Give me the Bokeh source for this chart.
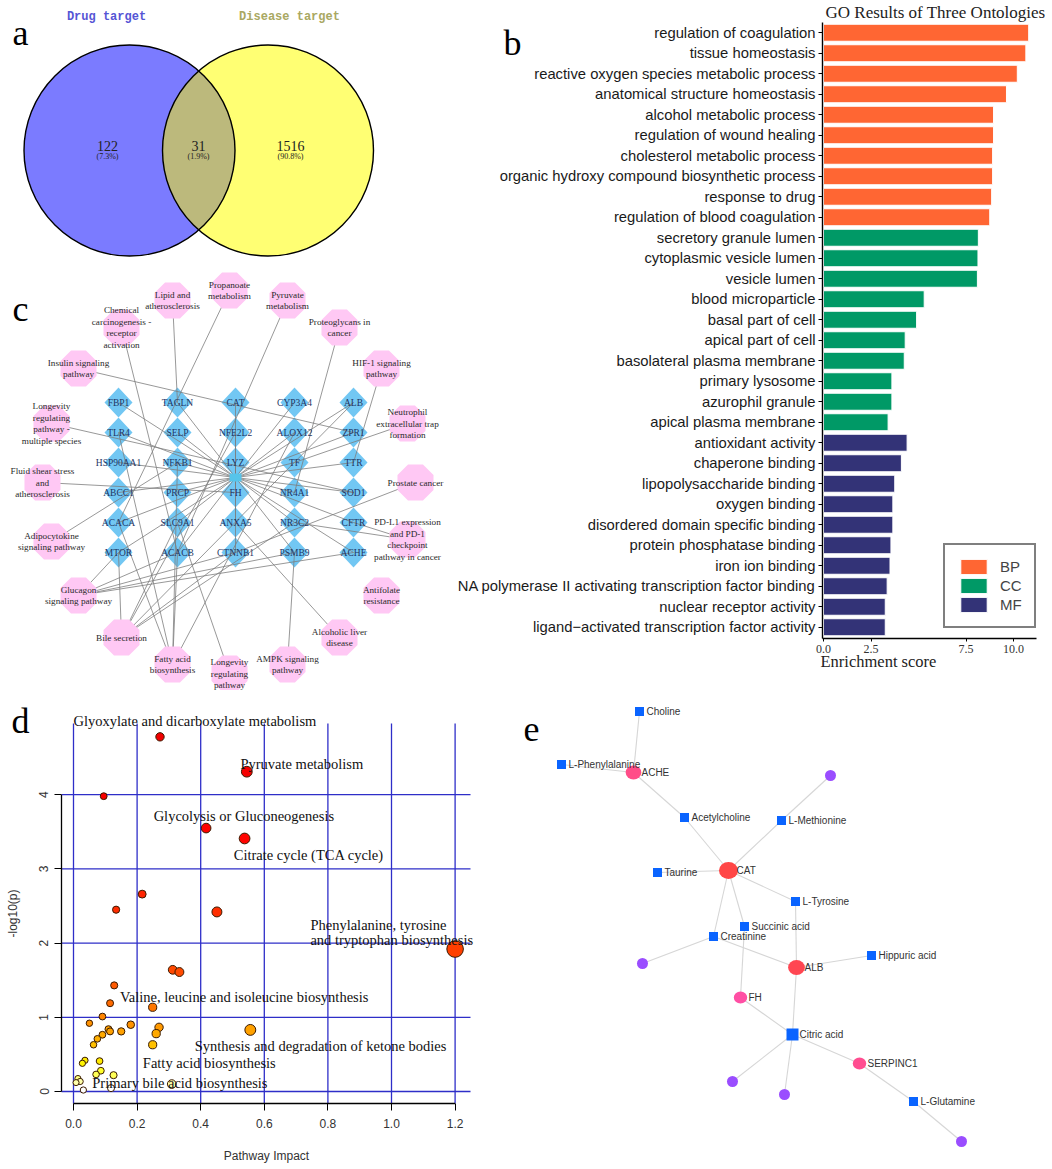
import numpy as np
from bokeh.plotting import figure
from bokeh.layouts import column, row
from bokeh.models import (Range1d, FixedTicker, NumeralTickFormatter,
                          LinearColorMapper, ColumnDataSource, Legend, LegendItem)
from bokeh.core.properties import value
from bokeh.transform import transform
from bokeh.embed import file_html
from bokeh.resources import INLINE

SERIF = "Liberation Serif"
SANS = "Liberation Sans"
MONO = "Liberation Mono"

# ============================ DATA ============================
# (a) Venn
venn_names = ["Drug target", "Disease target"]
venn_counts = [122, 31, 1516]
venn_pcts = ["(7.3%)", "(1.9%)", "(90.8%)"]

# (b) GO enrichment
go_terms = [
    "regulation of coagulation", "tissue homeostasis",
    "reactive oxygen species metabolic process", "anatomical structure homeostasis",
    "alcohol metabolic process", "regulation of wound healing",
    "cholesterol metabolic process", "organic hydroxy compound biosynthetic process",
    "response to drug", "regulation of blood coagulation",
    "secretory granule lumen", "cytoplasmic vesicle lumen", "vesicle lumen",
    "blood microparticle", "basal part of cell", "apical part of cell",
    "basolateral plasma membrane", "primary lysosome", "azurophil granule",
    "apical plasma membrane",
    "antioxidant activity", "chaperone binding", "lipopolysaccharide binding",
    "oxygen binding", "disordered domain specific binding", "protein phosphatase binding",
    "iron ion binding", "NA polymerase II activating transcription factor binding",
    "nuclear receptor activity", "ligand\u2212activated transcription factor activity",
]
go_scores = [10.8, 10.65, 10.2, 9.63, 8.95, 8.95, 8.9, 8.9, 8.85, 8.75,
             8.15, 8.13, 8.1, 5.3, 4.9, 4.3, 4.25, 3.6, 3.6, 3.4,
             4.4, 4.1, 3.75, 3.65, 3.65, 3.55, 3.5, 3.35, 3.25, 3.25]
go_class = ["BP", "BP", "BP", "BP", "BP", "BP", "BP", "BP", "BP", "BP",
            "CC", "CC", "CC", "CC", "CC", "CC", "CC", "CC", "CC", "CC",
            "MF", "MF", "MF", "MF", "MF", "MF", "MF", "MF", "MF", "MF"]
go_ticks = [0, 2.5, 7.5, 10]
go_title = "GO Results of Three Ontologies"
go_xlabel = "Enrichment score"

# (c) drug-target-pathway network
target_names = ["FBP1", "TAGLN", "CAT", "CYP3A4", "ALB",
                "TLR4", "SELP", "NFE2L2", "ALOX12", "ZPR1",
                "HSP90AA1", "NFKB1", "LYZ", "TF", "TTR",
                "ABCC1", "PRCP", "FH", "NR4A1", "SOD1",
                "ACACA", "SLC9A1", "ANXA5", "NR3C2", "CFTR",
                "MTOR", "ACACB", "CTNNB1", "PSMB9", "ACHE"]
pathway_names = [
    "Propanoate\nmetabolism", "Lipid and\natherosclerosis", "Pyruvate\nmetabolism",
    "Chemical\ncarcinogenesis -\nreceptor\nactivation", "Proteoglycans in\ncancer",
    "Insulin signaling\npathway", "HIF-1 signaling\npathway",
    "Longevity\nregulating\npathway -\nmultiple species",
    "Neutrophil\nextracellular trap\nformation",
    "Fluid shear stress\nand\natherosclerosis", "Prostate cancer",
    "Adipocytokine\nsignaling pathway",
    "PD-L1 expression\nand PD-1\ncheckpoint\npathway in cancer",
    "Glucagon\nsignaling pathway", "Antifolate\nresistance", "Bile secretion",
    "Alcoholic liver\ndisease", "Fatty acid\nbiosynthesis", "AMPK signaling\npathway",
    "Longevity\nregulating\npathway",
]
pathway_targets = [
    ["ACACA"], ["TAGLN"], ["ACACB"], ["ACACB"], ["NR4A1"],
    ["ZPR1"], ["TTR"], ["SOD1"], ["TF"], ["FH"], ["CTNNB1"], ["NFKB1"],
    ["NR3C2", "CFTR"], ["MTOR", "CTNNB1", "PSMB9", "ACHE", "ACACB"], [],
    ["MTOR", "SLC9A1", "NFE2L2", "CTNNB1", "NR3C2", "ALB"],
    ["ANXA5"], ["TLR4", "ACACA", "ACACB", "NFKB1", "ALOX12"], ["PSMB9"], ["SLC9A1"],
]

# (d) metabolic pathway analysis
kegg_impact = [0.272, 0.545, 0.095, 0.417, 0.538, 0.216, 0.134, 0.451, 1.20,
               0.312, 0.333, 0.128, 0.115, 0.249, 0.091, 0.050, 0.110, 0.115,
               0.150, 0.180, 0.269, 0.260, 0.556, 0.091, 0.075, 0.063, 0.249,
               0.036, 0.028, 0.082, 0.086, 0.071, 0.126, 0.014, 0.021, 0.309,
               0.118, 0.031, 0.008]
kegg_logp = [4.78, 4.31, 3.98, 3.55, 3.41, 2.66, 2.45, 2.42, 1.92,
             1.64, 1.61, 1.43, 1.19, 1.135, 1.01, 0.92, 0.84, 0.81,
             0.81, 0.90, 0.865, 0.78, 0.83, 0.765, 0.71, 0.63, 0.63,
             0.42, 0.38, 0.41, 0.28, 0.23, 0.22, 0.175, 0.135, 0.10,
             0.045, 0.02, 0.12]
kegg_labels = ["Glyoxylate and dicarboxylate metabolism", "Pyruvate metabolism",
               "Glycolysis or Gluconeogenesis", "Citrate cycle (TCA cycle)",
               "Phenylalanine, tyrosine\nand tryptophan biosynthesis",
               "Valine, leucine and isoleucine biosynthesis",
               "Synthesis and degradation of ketone bodies",
               "Fatty acid biosynthesis", "Primary bile acid biosynthesis"]
d_xticks = [0.0, 0.2, 0.4, 0.6, 0.8, 1.0, 1.2]
d_yticks = [0, 1, 2, 3, 4]
d_xlabel = "Pathway Impact"
d_ylabel = "-log10(p)"

# (e) metabolite-target network
e_names = ["Choline", "L-Phenylalanine", "ACHE", "", "Acetylcholine", "L-Methionine",
           "CAT", "Taurine", "L-Tyrosine", "Succinic acid", "Creatinine", "",
           "Hippuric acid", "ALB", "FH", "Citric acid", "SERPINC1", "", "",
           "L-Glutamine", ""]
e_kind = ["met", "met", "gene", "other", "met", "met", "gene", "met", "met", "met",
          "met", "other", "met", "gene", "gene", "met", "gene", "other", "other",
          "met", "other"]
e_edges = [(0, 2), (1, 2), (2, 4), (4, 6), (3, 5), (5, 6), (7, 6), (6, 8), (6, 10),
           (6, 9), (9, 14), (8, 13), (10, 11), (10, 13), (13, 12), (13, 15),
           (14, 15), (15, 17), (15, 18), (15, 16), (16, 19), (19, 20)]

# ============================ LAYOUT / STYLE ============================
def blank(w, h, x0, x1, y0, y1):
    p = figure(width=w, height=h, x_range=Range1d(x0, x1), y_range=Range1d(y1, y0),
               x_axis_location=None, y_axis_location=None, toolbar_location=None,
               output_backend="svg", min_border=0, outline_line_color=None)
    p.grid.visible = False
    return p


def letter(p, txt, x, y):
    p.text(x=[x], y=[y], text=[txt], text_font=value(SERIF), text_font_size="36px",
           text_color="black", text_baseline="middle", text_align="center")


# ---------------- (a) ----------------
pa = blank(444, 265, 0, 444, 0, 265)
R = 105.5
cl, cr, cy = 129.0, 267.5, 150.0
pa.circle(x=[cl], y=[cy], radius=R, fill_color="#7b7bff", line_color=None)
pa.circle(x=[cr], y=[cy], radius=R, fill_color="#ffff73", line_color=None)
alpha = np.arccos((cr - cl) / 2 / R)
t1 = np.linspace(-alpha, alpha, 80)
t2 = np.linspace(np.pi - alpha, np.pi + alpha, 80)
lens_x = np.concatenate([cl + R * np.cos(t1), cr + R * np.cos(t2)])
lens_y = np.concatenate([cy + R * np.sin(t1), cy + R * np.sin(t2)])
pa.patch(lens_x, lens_y, fill_color="#bcb97c", line_color=None)
pa.circle(x=[cl, cr], y=[cy, cy], radius=R, fill_color=None, line_color="black", line_width=1.4)
pa.text(x=[106, 289], y=[16, 16], text=venn_names, text_font=value(MONO),
        text_font_style="bold", text_font_size="12px", text_align="center",
        text_baseline="middle", text_color=["#5555d5", "#a9a862"])
cnt_x = [107, 198, 290]
pa.text(x=cnt_x, y=[145] * 3, text=[str(c) for c in venn_counts], text_font=value(SERIF),
        text_font_size="14px", text_align="center", text_baseline="middle", text_color="#222222")
pa.text(x=cnt_x, y=[155.5] * 3, text=venn_pcts, text_font=value(SERIF),
        text_font_size="8px", text_align="center", text_baseline="middle", text_color="#222222")
letter(pa, "a", 20, 32)

# ---------------- (c) ----------------
pc = blank(444, 425, 0, 444, 265, 690)
col_x = [118, 177, 235, 294, 353]
row_y = [402, 432, 462, 492, 522, 552]
t_x = [col_x[i % 5] for i in range(len(target_names))]
t_y = [row_y[i // 5] for i in range(len(target_names))]
tpos = {n: (x, y) for n, x, y in zip(target_names, t_x, t_y)}
hub = (235, 477)
p_pos = [(229, 290), (172, 300), (287, 300), (121, 327), (339, 327), (78, 368), (381, 368),
         (51, 423), (407, 423), (42, 482), (415, 482), (51, 541), (407, 539), (78, 595),
         (381, 595), (121, 637), (339, 637), (172, 664), (287, 664), (229, 673)]

ex0, ey0, ex1, ey1 = [], [], [], []
for n in target_names:
    ex0.append(hub[0]); ey0.append(hub[1]); ex1.append(tpos[n][0]); ey1.append(tpos[n][1])
for (px, py), tl in zip(p_pos, pathway_targets):
    for n in tl:
        ex0.append(px); ey0.append(py); ex1.append(tpos[n][0]); ey1.append(tpos[n][1])

dxs = [[x, x + 14, x, x - 14] for x in t_x]
dys = [[y - 15, y, y + 15, y] for y in t_y]
pc.patches(dxs, dys, fill_color="#72c7f3", line_color=None)
pc.segment(x0=ex0, y0=ey0, x1=ex1, y1=ey1, line_color="#7d7d7d", line_width=0.8)
pc.rect(x=[hub[0]], y=[hub[1]], width=12, height=8, fill_color="#56c4ea", line_color=None)
ang = np.pi / 8 + np.arange(8) * np.pi / 4
ox = [list(x + 19.5 * np.cos(ang)) for x, _ in p_pos]
oy = [list(y + 19.5 * np.sin(ang)) for _, y in p_pos]
pc.patches(ox, oy, fill_color="#ffc8f4", line_color=None)
pc.text(x=t_x, y=t_y, text=target_names, text_font=value(SERIF), text_font_size="9.5px",
        text_align="center", text_baseline="middle", text_color="#1f3563")
pc.text(x=[p[0] for p in p_pos], y=[p[1] for p in p_pos], text=pathway_names,
        text_font=value(SERIF), text_font_size="9.2px", text_align="center",
        text_baseline="middle", text_color="#2a2a2a", text_line_height=1.15)
letter(pc, "c", 20, 308)

# ---------------- (b) ----------------
# page-pixel helpers for this panel (canvas spans page x 444..1052, y 0..690)
B_ZERO, B_PPU, B_ROW1, B_ROWH = 823.0, 19.0, 32.25, 20.5
n_go = len(go_terms)
bx = lambda px: (px - B_ZERO) / B_PPU
by = lambda py: n_go - (py - B_ROW1) / B_ROWH
go_ypos = [n_go - i for i in range(n_go)]
pb = figure(width=608, height=690, x_range=Range1d(bx(444), bx(1052)),
            y_range=Range1d(by(690), by(0)), toolbar_location=None,
            output_backend="svg", min_border=0, outline_line_color=None)
pb.grid.visible = False
go_colors = {"BP": "#ff6633", "CC": "#009966", "MF": "#333377"}
items = []
for cls in ["BP", "CC", "MF"]:
    idx = [i for i, c in enumerate(go_class) if c == cls]
    src = ColumnDataSource(dict(y=[go_ypos[i] for i in idx], s=[go_scores[i] for i in idx]))
    r = pb.hbar(y="y", right="s", left=0, height=0.83, source=src,
                fill_color=go_colors[cls], line_color="white", line_width=1)
    items.append(LegendItem(label=cls, renderers=[r]))
leg = Legend(items=items, location=(943 - 444, 690 - 628), border_line_color="black",
             border_line_width=2, padding=12, spacing=0, glyph_width=33, glyph_height=19,
             label_standoff=10, label_text_font=SANS, label_text_font_size="15px", margin=0,
             background_fill_alpha=1)
pb.add_layout(leg)
pb.yaxis.fixed_location = bx(822)
pb.yaxis.bounds = (by(638), by(22))
pb.yaxis.ticker = FixedTicker(ticks=go_ypos)
pb.yaxis.major_label_overrides = {y: t for y, t in zip(go_ypos, go_terms)}
pb.yaxis.major_label_text_font = SANS
pb.yaxis.major_label_text_font_size = "14.8px"
pb.yaxis.major_label_text_color = "#1a1a1a"
pb.yaxis.major_label_standoff = 3
pb.yaxis.minor_tick_line_color = None
pb.yaxis.major_tick_in = 0
pb.yaxis.major_tick_out = 4
pb.xaxis.fixed_location = by(638)
pb.xaxis.bounds = (bx(822), bx(1036))
pb.xaxis.ticker = FixedTicker(ticks=go_ticks)
pb.xaxis.formatter = NumeralTickFormatter(format="0.0")
pb.xaxis.major_label_text_font = SERIF
pb.xaxis.major_label_text_font_size = "12px"
pb.xaxis.major_label_text_color = "#333333"
pb.xaxis.major_tick_in = 0
pb.xaxis.major_tick_out = 3
pb.xaxis.major_label_standoff = 3
pb.xaxis.minor_tick_line_color = None
pb.axis.axis_line_width = 1.4
pb.text(x=[bx(825)], y=[by(12)], text=[go_title], text_font=value(SERIF),
        text_font_size="17px", text_color="#222222", text_baseline="middle", text_align="left")
pb.text(x=[bx(820)], y=[by(661)], text=[go_xlabel], text_font=value(SERIF),
        text_font_size="16.5px", text_color="#222222", text_baseline="middle", text_align="left")
letter(pb, "b", bx(512), by(42))

# ---------------- (d) ----------------
D_X0, D_PPX, D_Y0, D_PPY = 73.0, 318.0, 1091.0, 74.2
dx_ = lambda px: (px - D_X0) / D_PPX
dy_ = lambda py: (D_Y0 - py) / D_PPY
pd_ = figure(width=520, height=479, x_range=Range1d(dx_(0), dx_(520)),
             y_range=Range1d(dy_(1169), dy_(690)), toolbar_location=None,
             output_backend="svg", min_border=0, outline_line_color=None)
pd_.grid.visible = False
gc = "#2e2ec8"
nxt, nyt = len(d_xticks), len(d_yticks)
pd_.segment(x0=d_xticks, y0=[dy_(1103)] * nxt, x1=d_xticks, y1=[dy_(723)] * nxt,
            line_color=gc, line_width=1.3)
pd_.segment(x0=[dx_(61)] * nyt, y0=d_yticks, x1=[dx_(470)] * nyt, y1=d_yticks,
            line_color=gc, line_width=1.3)
pd_.segment(x0=[dx_(61), d_xticks[0]], y0=[d_yticks[0], dy_(1103)],
            x1=[dx_(61), d_xticks[-1]], y1=[d_yticks[-1], dy_(1103)],
            line_color="black", line_width=1.3)
anc_v = [0, 0.12, 0.3, 0.6, 0.85, 1.2, 1.6, 2.5, 3.5, 4.8]
anc_c = ["#ffffff", "#ffff9a", "#ffff00", "#ffc000", "#ff9900", "#ff6a00", "#ff4a00",
         "#ff2a00", "#ff0000", "#f00000"]
rgb = np.array([[int(c[i:i + 2], 16) for i in (1, 3, 5)] for c in anc_c], float)
grid_v = np.linspace(0, 4.8, 97)
pal = ["#%02x%02x%02x" % tuple(int(round(np.interp(v, anc_v, rgb[:, k]))) for k in range(3))
       for v in grid_v]
mapper = LinearColorMapper(palette=pal, low=0, high=4.8)
dsrc = ColumnDataSource(dict(x=kegg_impact, y=kegg_logp,
                             size=[6 + 8.8 * v for v in kegg_impact]))
pd_.scatter(x="x", y="y", size="size", source=dsrc, fill_color=transform("y", mapper),
            line_color="#3a1a00", line_width=1)
lab_x = [0.0, 0.525, 0.252, 0.504, 0.745, 0.146, 0.381, 0.218, 0.059]
lab_y = [5.0, 4.42, 3.71, 3.19, 2.14, 1.27, 0.61, 0.38, 0.12]
pd_.text(x=lab_x, y=lab_y, text=kegg_labels, text_font=value(SERIF), text_font_size="14.5px",
         text_align="left", text_baseline="middle", text_color="#111111", text_line_height=0.95)
pd_.xaxis.fixed_location = dy_(1103)
pd_.yaxis.fixed_location = dx_(61)
pd_.xaxis.ticker = FixedTicker(ticks=d_xticks)
pd_.xaxis.formatter = NumeralTickFormatter(format="0.0")
pd_.yaxis.ticker = FixedTicker(ticks=d_yticks)
pd_.yaxis.major_label_orientation = "vertical"
for ax in (pd_.xaxis, pd_.yaxis):
    ax.axis_line_color = None
    ax.major_tick_out = 7
    ax.major_tick_in = 0
    ax.minor_tick_line_color = None
    ax.major_label_text_font = SANS
    ax.major_label_text_font_size = "12px"
    ax.major_label_text_color = "#333333"
pd_.xaxis.major_label_standoff = 8
pd_.yaxis.major_label_standoff = 6
pd_.text(x=[dx_(266)], y=[dy_(1155)], text=[d_xlabel], text_font=value(SANS),
         text_font_size="12px", text_color="#333333", text_align="center", text_baseline="middle")
pd_.text(x=[dx_(12)], y=[dy_(913)], text=[d_ylabel], text_font=value(SANS), angle=np.pi / 2,
         text_font_size="12px", text_color="#333333", text_align="center", text_baseline="middle")
letter(pd_, "d", dx_(20), dy_(720))

# ---------------- (e) ----------------
pe = blank(532, 479, 520, 1052, 690, 1169)
e_x = [639, 561, 633, 830, 684, 781, 728, 657, 795, 744, 713, 642, 871, 796, 740, 792, 859,
       732, 784, 913, 961]
e_y = [711, 764, 772, 775, 817, 820, 870, 872, 901, 926, 936, 963, 955, 967, 997, 1034, 1063,
       1081, 1094, 1101, 1141]
pe.segment(x0=[e_x[a] for a, b in e_edges], y0=[e_y[a] for a, b in e_edges],
           x1=[e_x[b] for a, b in e_edges], y1=[e_y[b] for a, b in e_edges],
           line_color="#d6d6d6", line_width=1.1)
gene_col = {"ACHE": "#ff4d88", "CAT": "#ff4646", "ALB": "#ff4652", "FH": "#ff4fa4",
            "SERPINC1": "#ff4d90"}
gene_size = {"ACHE": 14, "CAT": 17, "ALB": 15, "FH": 12, "SERPINC1": 12}
mi = [i for i, k in enumerate(e_kind) if k == "met"]
gi = [i for i, k in enumerate(e_kind) if k == "gene"]
oi = [i for i, k in enumerate(e_kind) if k == "other"]
pe.scatter(x=[e_x[i] for i in oi], y=[e_y[i] for i in oi], marker="circle", size=11,
           fill_color="#9a4dff", line_color=None)
pe.ellipse(x=[e_x[i] for i in gi], y=[e_y[i] for i in gi],
           width=[gene_size[e_names[i]] * 1.12 for i in gi],
           height=[gene_size[e_names[i]] for i in gi],
           fill_color=[gene_col[e_names[i]] for i in gi], line_color=None)
pe.scatter(x=[e_x[i] for i in mi], y=[e_y[i] for i in mi], marker="square",
           size=[12 if e_names[i] == "Citric acid" else 9 for i in mi],
           fill_color="#0a64ff", line_color=None)
lx = [e_x[i] + (7 if e_kind[i] == "met" else 8) for i in range(len(e_names))]
pe.text(x=lx, y=e_y, text=e_names, text_font=value(SANS), text_font_size="10px",
        text_align="left", text_baseline="middle", text_color="#333333")
letter(pe, "e", 531, 728)

layout = column(row(column(pa, pc), pb), row(pd_, pe))
open("out.html", "w").write(file_html(layout, INLINE))
